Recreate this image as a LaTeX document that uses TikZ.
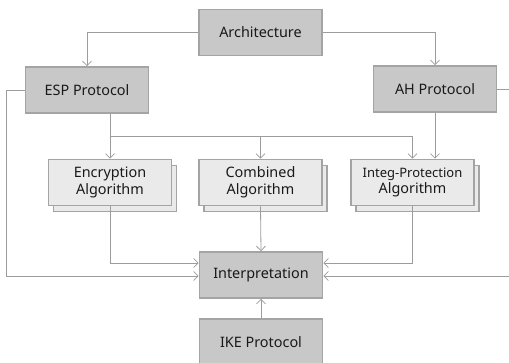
\documentclass[tikz,border=0pt]{standalone}
\usepackage{fontspec}
\setmainfont{Noto Sans}
\usetikzlibrary{shadows}
\usetikzlibrary{positioning}
\usetikzlibrary{arrows.meta}
\usetikzlibrary{calc}
\definecolor{boxdark}{HTML}{C8C8C8}
\definecolor{boxlight}{HTML}{EAEAEA}
\definecolor{boxline}{HTML}{A4A4A4}
\definecolor{wire}{HTML}{9C9C9C}
\tikzstyle{block}=[rectangle,draw=boxline,line width=1.6pt,fill=boxdark,minimum width=123pt,minimum height=46pt,inner sep=0pt,font=\fontsize{14.4}{16.5}\selectfont,text=black!90]
\tikzstyle{algblock}=[block,fill=boxlight,align=center,copy shadow={shadow xshift=5pt,shadow yshift=-6pt}]
\tikzstyle{wireline} = [draw,wire,line width=0.8pt]
\tikzstyle{wirearrow} = [wireline,-{Straight Barb[length=4.5pt,width=9pt]}]

\begin{document}
\begin{tikzpicture}[x=1pt,y=-1pt]
  \useasboundingbox (0,0) rectangle (509,363);
  % the boxes
  \node[block] (arch) at (260.5,32.5) {Architecture};
  \node[block] (esp) at (87,90) {ESP Protocol};
  \node[block] (ah) at (435,89) {AH Protocol};
  \foreach \pos/\name/\label in {{(110,182.5)/enc/Encryption\\Algorithm}, {(260.5,182.5)/comb/Combined\\Algorithm}, {(412.5,182.5)/integ/{\fontsize{13}{16.5}\selectfont Integ-Protection}\\Algorithm}}
    \node[algblock] (\name) at \pos {\label};
  \node[block] (interp) at (261,275) {Interpretation};
  \node[block] (ike) at (261,342) {IKE Protocol};
  % free ends at the edges
  \coordinate (bus) at (110,136.5);
  \coordinate (rightA) at (510,89);
  \coordinate (rightB) at (510,276);
  % connectors
  \path[wirearrow] (arch.west) -| (esp.north);
  \path[wirearrow] (arch.east) -| (ah.north);
  \path[wirearrow] (enc.north |- esp.south) -- (enc.north);
  \path[wirearrow] (bus) -| (comb.north);
  \path[wirearrow] (bus) -| (integ.north);
  \path[wirearrow] (ah.south) -- (ah.south |- integ.north);
  \path[wirearrow] (esp.west) -- ++(-18,0) |- ($(interp.west)+(0,1)$);
  \path[wirearrow] (enc.south) |- ($(interp.west)+(0,-12)$);
  \path[wirearrow] (comb.south) -- (interp.north);
  \path[wirearrow] (integ.south) |- ($(interp.east)+(0,-12)$);
  \path[wirearrow] (rightB) -- ($(interp.east)+(0,1)$);
  \path[wireline] (ah.east) -- (rightA);
  \path[wirearrow] (ike.north) -- (interp.south);
\end{tikzpicture}
\end{document}
